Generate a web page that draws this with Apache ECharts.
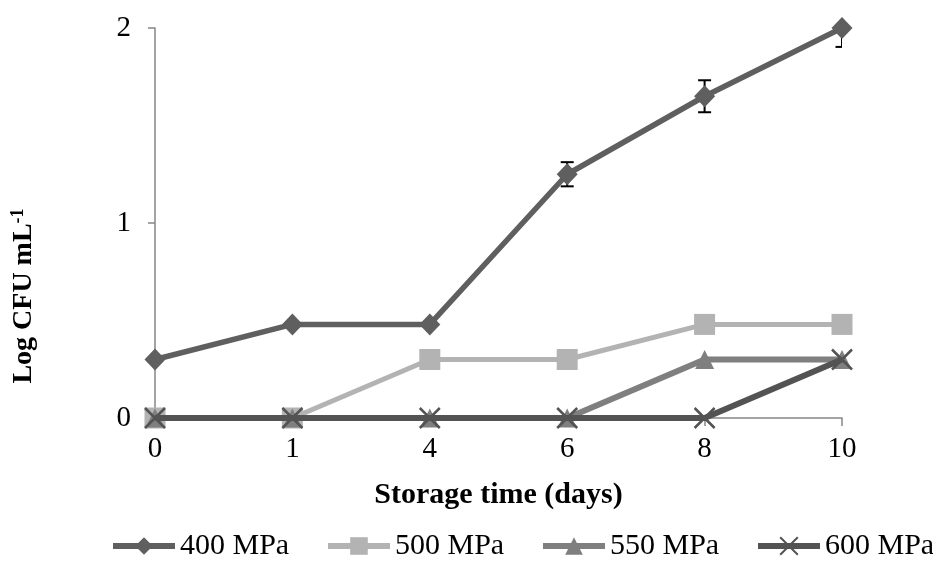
<!DOCTYPE html>
<html>
<head>
<meta charset="utf-8">
<script src="https://cdn.jsdelivr.net/npm/echarts@6/dist/echarts.min.js"></script>
<style>html,body{margin:0;padding:0;background:#fff}#c{width:933px;height:561px}</style>
</head>
<body>
<div id="c"></div>
<script>
var categories = ['0', '1', '4', '6', '8', '10'];
var p400 = [0.30, 0.48, 0.48, 1.25, 1.65, 2.00];
var err400 = [0, 0, 0, 0.062, 0.082, 0.097];
var p500 = [0, 0, 0.30, 0.30, 0.48, 0.48];
var p550 = [0, 0, 0, 0, 0.30, 0.30];
var p600 = [0, 0, 0, 0, 0, 0.30];
var seriesNames = ['400 MPa', '500 MPa', '550 MPa', '600 MPa'];
var yTicks = [0, 1, 2];

var FONT = 'Liberation Serif';
var chart = echarts.init(document.getElementById('c'), null, {renderer: 'canvas'});

var errData = p400.map(function (v, i) { return [i, v - err400[i], v + err400[i], err400[i]]; });

var xPath = 'path://M0,0L10,10M10,0L0,10';

var legendLefts = [110, 325, 540, 755];
var legends = seriesNames.map(function (n, i) {
  return {
    data: [n],
    left: legendLefts[i],
    top: 531,
    padding: 0,
    itemWidth: 62,
    itemHeight: 22,
    lineStyle: {width: 6},
    textStyle: {fontFamily: FONT, fontSize: 30, color: '#000'}
  };
});

chart.setOption({
  animation: false,
  backgroundColor: '#fff',
  grid: {left: 155, right: 91, top: 28, bottom: 143, containLabel: false},
  xAxis: {
    type: 'category',
    data: categories,
    boundaryGap: false,
    axisLine: {lineStyle: {color: '#868686', width: 1.5}},
    axisTick: {show: true, alignWithLabel: true, length: 8, lineStyle: {color: '#868686', width: 1.5}},
    axisLabel: {fontFamily: FONT, fontSize: 29, color: '#000', margin: 17},
    splitLine: {show: false},
    name: 'Storage time (days)',
    nameLocation: 'middle',
    nameGap: 62,
    nameTextStyle: {fontFamily: FONT, fontSize: 30, fontWeight: 'bold', color: '#000'}
  },
  yAxis: {
    type: 'value',
    min: yTicks[0],
    max: yTicks[yTicks.length - 1],
    interval: 1,
    axisLine: {show: true, lineStyle: {color: '#868686', width: 1.5}},
    axisTick: {show: true, length: 7, lineStyle: {color: '#868686', width: 1.5}},
    axisLabel: {fontFamily: FONT, fontSize: 29, color: '#000', margin: 24},
    splitLine: {show: false}
  },
  legend: legends,
  graphic: [{
    type: 'text',
    x: 24,
    y: 296,
    rotation: Math.PI / 2,
    style: {
      text: '{b|Log CFU mL}{s|-1}',
      align: 'center',
      verticalAlign: 'middle',
      rich: {
        b: {fontFamily: FONT, fontSize: 28, fontWeight: 'bold', fill: '#000', color: '#000'},
        s: {fontFamily: FONT, fontSize: 18, fontWeight: 'bold', fill: '#000', color: '#000', verticalAlign: 'top', padding: [0, 0, 12, 0]}
      }
    }
  }],
  series: [
    {
      name: 'err',
      type: 'custom',
      z: 1,
      clip: true,
      data: errData,
      renderItem: function (params, api) {
        if (api.value(3) <= 0) return;
        var lo = api.coord([api.value(0), api.value(1)]);
        var hi = api.coord([api.value(0), api.value(2)]);
        var hw = 6.5;
        var st = {stroke: '#000', lineWidth: 2};
        return {
          type: 'group',
          children: [
            {type: 'line', shape: {x1: lo[0], y1: lo[1], x2: hi[0], y2: hi[1]}, style: st},
            {type: 'line', shape: {x1: lo[0] - hw, y1: lo[1], x2: lo[0] + hw, y2: lo[1]}, style: st},
            {type: 'line', shape: {x1: hi[0] - hw, y1: hi[1], x2: hi[0] + hw, y2: hi[1]}, style: st}
          ]
        };
      }
    },
    {
      name: seriesNames[0], type: 'line', data: p400, z: 2,
      symbol: 'diamond', symbolSize: [21, 22],
      lineStyle: {color: '#5f5f5f', width: 5.5},
      itemStyle: {color: '#5f5f5f'}
    },
    {
      name: seriesNames[1], type: 'line', data: p500, z: 3,
      symbol: 'rect', symbolSize: 21,
      lineStyle: {color: '#b3b3b3', width: 5},
      itemStyle: {color: '#b3b3b3'}
    },
    {
      name: seriesNames[2], type: 'line', data: p550, z: 4,
      symbol: 'triangle', symbolSize: [19, 19],
      lineStyle: {color: '#7f7f7f', width: 6},
      itemStyle: {color: '#7f7f7f'}
    },
    {
      name: seriesNames[3], type: 'line', data: p600, z: 5,
      symbol: xPath, symbolSize: 20,
      lineStyle: {color: '#535353', width: 6},
      itemStyle: {color: 'rgba(0,0,0,0)', borderColor: '#535353', borderWidth: 2.5}
    }
  ]
});
</script>
</body>
</html>
